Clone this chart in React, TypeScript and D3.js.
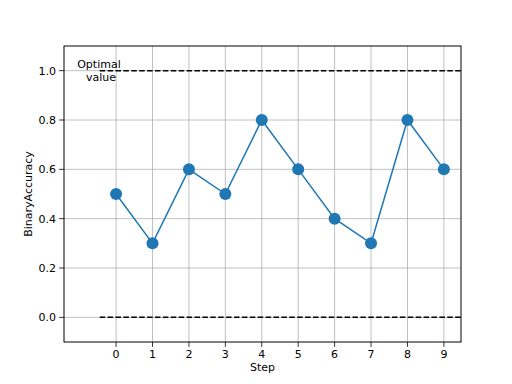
import React from "react";
import * as d3 from "d3";

const steps = [0, 1, 2, 3, 4, 5, 6, 7, 8, 9];
const accuracy = [0.5, 0.3, 0.6, 0.5, 0.8, 0.6, 0.4, 0.3, 0.8, 0.6];
const yTicks = [0.0, 0.2, 0.4, 0.6, 0.8, 1.0];
const optimalLines = [1.0, 0.0];
const optimalLabel = ["Optimal", "value"];

export default function App() {
  const W = 512, H = 384;
  const left = 64, right = 461, top = 46, bottom = 342;
  const x = d3.scaleLinear().domain([-1.43, 9.47]).range([left, right]);
  const y = d3.scaleLinear().domain([-0.1, 1.1]).range([bottom, top]);
  const line = d3.line<number>().x((_, i) => x(steps[i])).y((d) => y(d));
  const font = "DejaVu Sans, sans-serif";
  const color = "#1f77b4";
  const lx = x(-0.47);
  return (
    <svg width={W} height={H} style={{ position: "absolute", left: 0, top: 0 }}>
      <rect x={0} y={0} width={W} height={H} fill="#fff" />
      {steps.map((s) => (
        <line key={"gx" + s} x1={x(s)} x2={x(s)} y1={top} y2={bottom} stroke="#b0b0b0" strokeWidth={0.8} />
      ))}
      {yTicks.map((t) => (
        <line key={"gy" + t} x1={left} x2={right} y1={y(t)} y2={y(t)} stroke="#b0b0b0" strokeWidth={0.8} />
      ))}
      {optimalLines.map((v) => (
        <line key={"opt" + v} x1={x(-0.45)} x2={right} y1={y(v)} y2={y(v)} stroke="#000" strokeWidth={1.5} strokeDasharray="5.5,2.4" />
      ))}
      <text x={lx} y={y(1.0)} fontFamily={font} fontSize={11} textAnchor="middle" fill="#000">
        <tspan x={lx} dy={-3}>{optimalLabel[0]}</tspan>
        <tspan x={lx + 2} dy={13}>{optimalLabel[1]}</tspan>
      </text>
      <path d={line(accuracy) || ""} fill="none" stroke={color} strokeWidth={1.5} />
      {accuracy.map((v, i) => (
        <circle key={"m" + i} cx={x(steps[i])} cy={y(v)} r={6} fill={color} />
      ))}
      <rect x={left} y={top} width={right - left} height={bottom - top} fill="none" stroke="#000" strokeWidth={1} />
      {steps.map((s) => (
        <g key={"tx" + s}>
          <line x1={x(s)} x2={x(s)} y1={bottom} y2={bottom + 4.9} stroke="#000" strokeWidth={0.8} />
          <text x={x(s)} y={bottom + 16} fontFamily={font} fontSize={11} textAnchor="middle" fill="#000">{s}</text>
        </g>
      ))}
      {yTicks.map((t) => (
        <g key={"ty" + t}>
          <line x1={left - 4.9} x2={left} y1={y(t)} y2={y(t)} stroke="#000" strokeWidth={0.8} />
          <text x={left - 8} y={y(t) + 4} fontFamily={font} fontSize={11} textAnchor="end" fill="#000">{t.toFixed(1)}</text>
        </g>
      ))}
      <text x={(left + right) / 2} y={371} fontFamily={font} fontSize={11} textAnchor="middle" fill="#000">Step</text>
      <text transform={`translate(32,${(top + bottom) / 2}) rotate(-90)`} fontFamily={font} fontSize={11} textAnchor="middle" fill="#000">BinaryAccuracy</text>
    </svg>
  );
}
